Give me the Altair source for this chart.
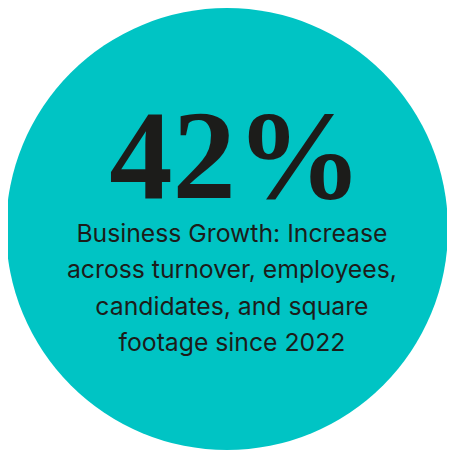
import altair as alt
import pandas as pd

headline = ["42%"]
label_lines = [
    "Business Growth: Increase",
    "across turnover, employees,",
    "candidates, and square",
    "footage since 2022",
]

teal = "#00C4C4"
ink = "#1c1c1a"

base = alt.Chart(pd.DataFrame({"k": [0]}))

circle = base.mark_point(
    shape="circle", filled=True, color=teal, opacity=1, strokeWidth=0
).encode(x=alt.value(223), y=alt.value(221), size=alt.value(450 * 450))

big = alt.Chart(pd.DataFrame({"t": headline})).mark_text(
    font="Liberation Serif", fontWeight="bold", fontSize=129,
    color=ink, align="center", baseline="alphabetic"
).encode(x=alt.value(232), y=alt.value(189), text="t:N")

body = base.mark_text(
    font="Inter", fontSize=25.2, color=ink, align="center",
    baseline="alphabetic", lineHeight=37.2
).encode(x=alt.value(228), y=alt.value(234), text=alt.value(label_lines))

chart = alt.layer(circle, big, body).properties(
    width=447, height=447, autosize=alt.AutoSizeParams(type="none"),
    padding=0, background="white"
).configure_view(strokeWidth=0, stroke="transparent")

chart.save("out.html", embed_options={"renderer": "svg", "actions": False})
